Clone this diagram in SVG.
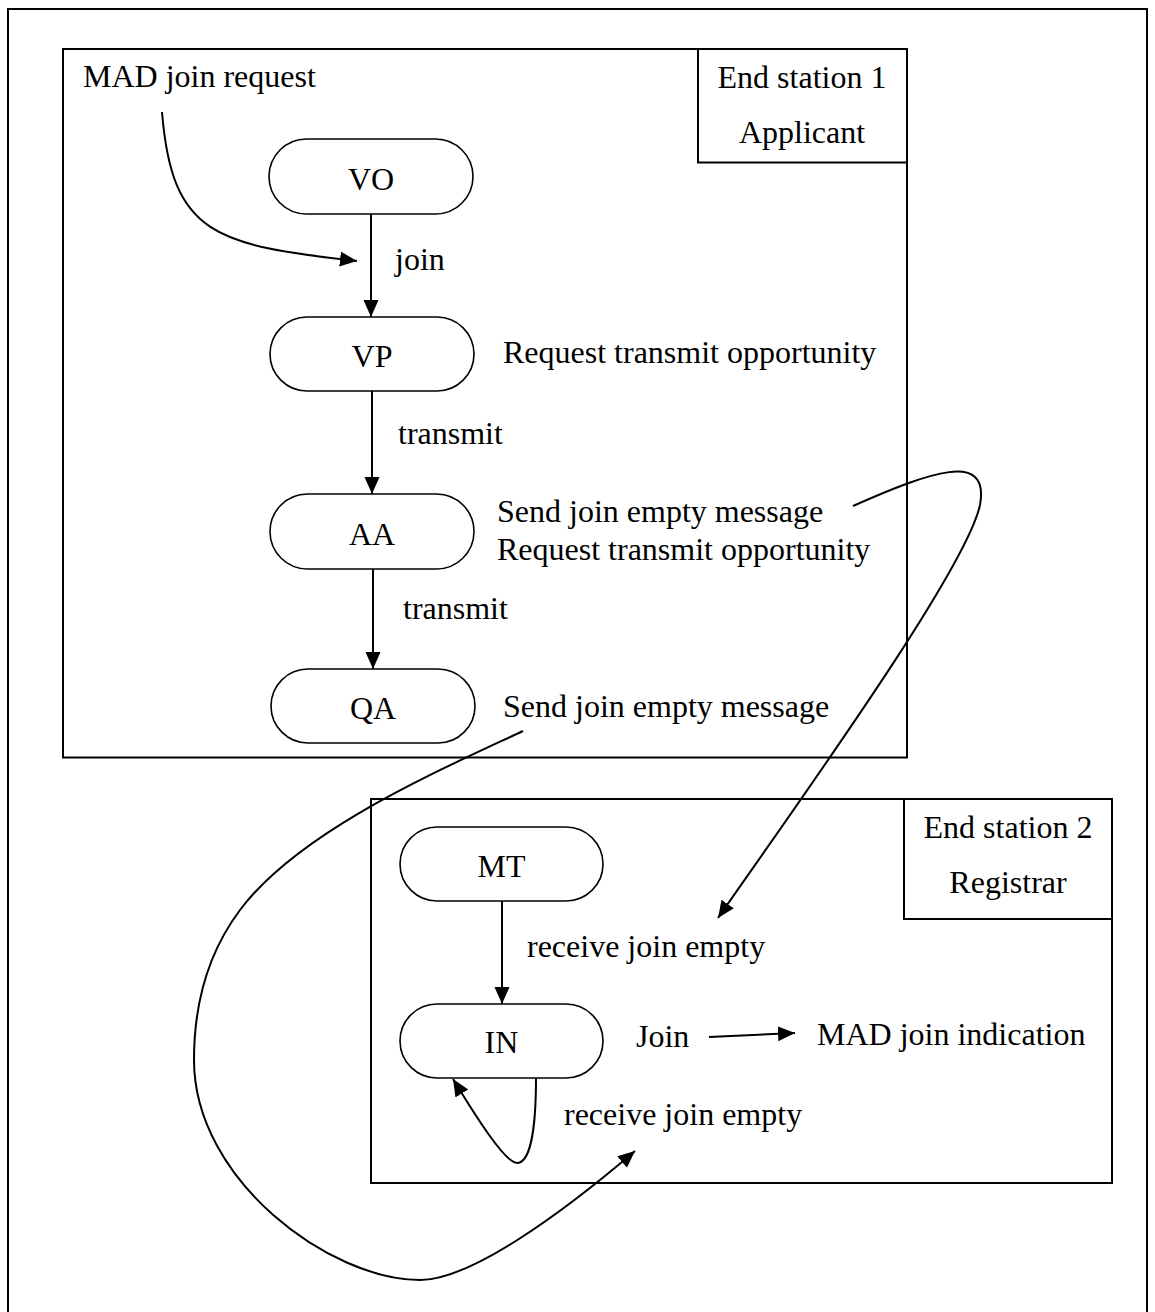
<svg xmlns="http://www.w3.org/2000/svg" width="1155" height="1312" viewBox="0 0 1155 1312">
<defs>
<marker id="ah" markerUnits="userSpaceOnUse" markerWidth="18" markerHeight="16" refX="17" refY="7.5" orient="auto">
<path d="M0,0 L17,7.5 L0,15 z" fill="#000"/>
</marker>
<style>
text{font-family:"Liberation Serif","Times New Roman",serif;font-size:32px;fill:#000}
.c{text-anchor:middle}
.box{fill:none;stroke:#000;stroke-width:2}
.pill{fill:#fff;stroke:#000;stroke-width:1.6}
.con{fill:none;stroke:#000;stroke-width:2}
.arr{marker-end:url(#ah)}
</style>
</defs>
<rect width="1155" height="1312" fill="#fff"/>
<path d="M8,1320 V9 H1147 V1320" class="box" stroke-width="2.5"/>

<g id="station1">
<rect x="63" y="49" width="844" height="708.5" class="box"/>
<rect x="698" y="49" width="209" height="113.5" class="box" stroke-width="1.5"/>
<text x="802" y="88" class="c">End station 1</text>
<text x="802" y="143" class="c">Applicant</text>
</g>

<g id="station2">
<rect x="371" y="799" width="741" height="384" class="box"/>
<rect x="904" y="799" width="208" height="120" class="box" stroke-width="1.5"/>
<text x="1008" y="838" class="c">End station 2</text>
<text x="1008" y="893" class="c">Registrar</text>
</g>

<g id="node-VO"><rect x="269" y="139" width="204" height="75" rx="37.5" class="pill"/><text x="371" y="190" class="c">VO</text></g>
<g id="node-VP"><rect x="270" y="317" width="204" height="74" rx="37" class="pill"/><text x="372" y="367" class="c">VP</text></g>
<g id="node-AA"><rect x="270" y="494" width="204" height="75" rx="37.5" class="pill"/><text x="372" y="545" class="c">AA</text></g>
<g id="node-QA"><rect x="271" y="669" width="204" height="74" rx="37" class="pill"/><text x="373" y="719" class="c">QA</text></g>
<g id="node-MT"><rect x="400" y="827" width="203" height="74" rx="37" class="pill"/><text x="501.5" y="877" class="c">MT</text></g>
<g id="node-IN"><rect x="400" y="1004" width="203" height="74" rx="37" class="pill"/><text x="501.5" y="1053" class="c">IN</text></g>

<g id="labels">
<text x="83" y="87">MAD join request</text>
<text x="395" y="270">join</text>
<text x="503" y="363">Request transmit opportunity</text>
<text x="398" y="444">transmit</text>
<text x="497" y="522">Send join empty message</text>
<text x="497" y="560">Request transmit opportunity</text>
<text x="403" y="619">transmit</text>
<text x="503" y="717">Send join empty message</text>
<text x="527" y="957">receive join empty</text>
<text x="636" y="1047">Join</text>
<text x="817" y="1045">MAD join indication</text>
<text x="564" y="1125">receive join empty</text>
</g>

<g id="connectors">
<path d="M162,112 C 172,235 215,245 357,261" class="con arr"/>
<line x1="371" y1="214" x2="371" y2="317" class="con arr"/>
<line x1="372" y1="391" x2="372" y2="494" class="con arr"/>
<line x1="373" y1="569" x2="373" y2="669" class="con arr"/>
<line x1="502" y1="901" x2="502" y2="1004" class="con arr"/>
<path d="M853,506 C 930,472 990,450 980,505 C 966,570 800,800 718,918" class="con arr"/>
<path d="M523,731 C 440,770 300,830 240,910 C 210,950 194,1000 194,1060 C 194,1180 330,1280 420,1280 C 470,1280 560,1215 635,1151" class="con arr"/>
<path d="M536,1078 C 536,1120 532,1163 517,1163 C 505,1163 475,1115 453,1079" class="con arr"/>
<line x1="709" y1="1037" x2="795" y2="1033" class="con arr"/>
</g>
</svg>
